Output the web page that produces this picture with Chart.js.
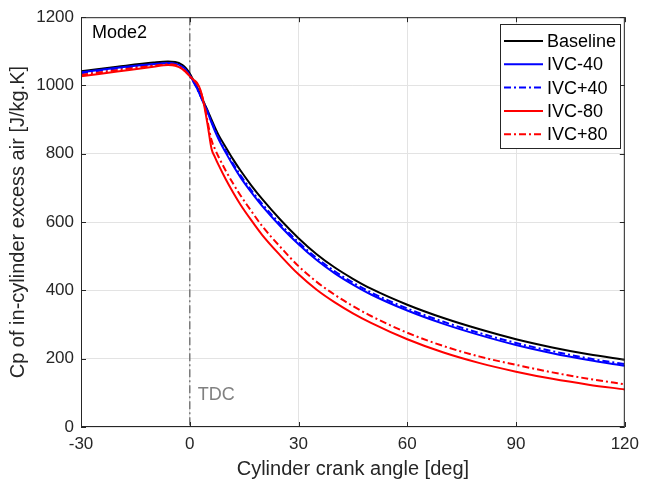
<!DOCTYPE html>
<html>
<head>
<meta charset="utf-8">
<script src="https://cdn.jsdelivr.net/npm/chart.js@4.4.1/dist/chart.umd.min.js"></script>
<style>
  html, body { margin: 0; padding: 0; background: #fff; }
  #wrap { width: 646px; height: 487px; position: relative; }
</style>
</head>
<body>
<div id="wrap"><canvas id="cp-chart"></canvas></div>
<script>
// Cp of in-cylinder excess air vs crank angle, Mode2
const angles = [-30, -20, -10, -6, -4, -2, -1, 0, 1, 2, 3, 4, 5, 6, 7, 8, 10, 12, 14, 17, 20, 25, 30, 35, 40, 45, 50, 60, 70, 80, 90, 100, 110, 120];

const baseline = [1042, 1055, 1067, 1070, 1069, 1060, 1050, 1035, 1015, 995, 972, 948, 925, 900, 876, 854, 818, 783, 751, 707, 667, 607, 553, 506, 467, 434, 405, 358, 319, 286, 257, 233, 213, 197];
const ivcMinus40 = [1039, 1052, 1063, 1066, 1064, 1055, 1045, 1030, 1012, 992, 968, 944, 920, 891, 865, 842, 802, 765, 731, 687, 647, 588, 535, 489, 450, 417, 388, 341, 302, 269, 240, 216, 196, 179];
const ivcPlus40 = [1036, 1050, 1061, 1064, 1062, 1053, 1043, 1028, 1011, 991, 968, 945, 921, 894, 869, 846, 807, 770, 737, 693, 653, 594, 541, 495, 456, 423, 394, 347, 308, 275, 246, 222, 201, 184];
const ivcMinus80 = [1027, 1041, 1055, 1060, 1058, 1048, 1038, 1027, 1017, 1008, 985, 940, 880, 815, 789, 766, 724, 686, 651, 605, 562, 502, 447, 402, 365, 333, 305, 257, 218, 187, 162, 141, 124, 110];
const ivcPlus80 = [1031, 1045, 1058, 1062, 1060, 1050, 1040, 1028, 1016, 1005, 982, 945, 890, 840, 813, 790, 749, 712, 678, 632, 588, 527, 471, 425, 387, 354, 325, 276, 237, 206, 182, 160, 141, 125];

const xTicks = [-30, 0, 30, 60, 90, 120];
const yTicks = [0, 200, 400, 600, 800, 1000, 1200];
const tdcAngle = 0;

const FONT = '"Liberation Sans", Arial, Helvetica, sans-serif';
const DASH_DOT = [7, 3, 2, 3];

function toPoints(values) {
    return values.map((v, i) => ({ x: angles[i], y: v }));
}

function series(label, values, color, dashed, order) {
    return {
        label: label,
        data: toPoints(values),
        borderColor: color,
        borderWidth: 2,
        borderDash: dashed ? DASH_DOT : [],
        pointRadius: 0,
        cubicInterpolationMode: 'monotone',
        fill: false,
        order: order
    };
}

// box, inward ticks, TDC marker, labels and legend
const decorPlugin = {
    id: 'decor',
    beforeDatasetsDraw(chart) {
        const { ctx, chartArea: a, scales } = chart;
        const xp = scales.x.getPixelForValue(tdcAngle);
        ctx.save();
        ctx.strokeStyle = '#7a7a7a';
        ctx.lineWidth = 1.5;
        ctx.setLineDash([8, 3, 2, 3]);
        ctx.beginPath();
        ctx.moveTo(xp, a.top);
        ctx.lineTo(xp, a.bottom);
        ctx.stroke();
        ctx.restore();
    },
    afterDraw(chart) {
        const { ctx, chartArea: a, scales } = chart;
        ctx.save();
        ctx.strokeStyle = '#262626';
        ctx.lineWidth = 1;
        ctx.setLineDash([]);
        ctx.strokeRect(a.left + 0.5, a.top + 0.5, a.right - a.left - 1, a.bottom - a.top - 1);

        const tl = 5;
        ctx.beginPath();
        xTicks.forEach(v => {
            const px = Math.round(scales.x.getPixelForValue(v)) + 0.5;
            ctx.moveTo(px, a.bottom); ctx.lineTo(px, a.bottom - tl);
            ctx.moveTo(px, a.top); ctx.lineTo(px, a.top + tl);
        });
        yTicks.forEach(v => {
            const py = Math.round(scales.y.getPixelForValue(v)) + 0.5;
            ctx.moveTo(a.left, py); ctx.lineTo(a.left + tl, py);
            ctx.moveTo(a.right, py); ctx.lineTo(a.right - tl, py);
        });
        ctx.stroke();

        ctx.fillStyle = '#000';
        ctx.font = '18px ' + FONT;
        ctx.textBaseline = 'middle';
        ctx.textAlign = 'left';
        ctx.fillText('Mode2', a.left + 11, a.top + 16);

        ctx.fillStyle = '#808080';
        ctx.fillText('TDC', scales.x.getPixelForValue(tdcAngle) + 8, scales.y.getPixelForValue(95));

        // legend
        const items = chart.data.datasets;
        const lx = 500, ly = 24, lw = 120, lh = 124;
        ctx.fillStyle = '#fff';
        ctx.fillRect(lx, ly, lw, lh);
        ctx.strokeStyle = '#262626';
        ctx.lineWidth = 1;
        ctx.strokeRect(lx + 0.5, ly + 0.5, lw, lh);
        ctx.font = '18px ' + FONT;
        items.forEach((ds, i) => {
            const cy = ly + 17 + i * 23.3;
            ctx.strokeStyle = ds.borderColor;
            ctx.lineWidth = 2;
            ctx.setLineDash(ds.borderDash);
            ctx.beginPath();
            ctx.moveTo(lx + 4, cy);
            ctx.lineTo(lx + 43, cy);
            ctx.stroke();
            ctx.setLineDash([]);
            ctx.fillStyle = '#000';
            ctx.fillText(ds.label, lx + 47, cy + 1);
        });
        ctx.restore();
    }
};

new Chart(document.getElementById('cp-chart'), {
    type: 'line',
    data: {
        datasets: [
            series('Baseline', baseline, '#000000', false, 5),
            series('IVC-40', ivcMinus40, '#0000ff', false, 4),
            series('IVC+40', ivcPlus40, '#0000ff', true, 3),
            series('IVC-80', ivcMinus80, '#ff0000', false, 2),
            series('IVC+80', ivcPlus80, '#ff0000', true, 1)
        ]
    },
    options: {
        responsive: true,
        maintainAspectRatio: false,
        animation: false,
        layout: { padding: { top: 15, right: 15, left: 0, bottom: 0 } },
        plugins: {
            legend: { display: false },
            tooltip: { enabled: false }
        },
        scales: {
            x: {
                type: 'linear',
                min: -30,
                max: 120,
                afterBuildTicks: s => { s.ticks = xTicks.map(v => ({ value: v })); },
                afterFit: s => { s.height = 60; },
                grid: { color: '#e3e3e3', lineWidth: 1, drawTicks: false },
                border: { display: false },
                ticks: { color: '#262626', font: { family: FONT, size: 17 }, padding: 7, maxRotation: 0, callback: v => String(v) },
                title: {
                    display: true,
                    text: 'Cylinder crank angle [deg]',
                    color: '#262626',
                    font: { family: FONT, size: 20 },
                    padding: { top: 0, bottom: 6 }
                }
            },
            y: {
                min: 0,
                max: 1200,
                afterBuildTicks: s => { s.ticks = yTicks.map(v => ({ value: v })); },
                afterFit: s => { s.width = 81; },
                grid: { color: '#e3e3e3', lineWidth: 1, drawTicks: false },
                border: { display: false },
                ticks: { color: '#262626', font: { family: FONT, size: 17 }, padding: 7, callback: v => String(v) },
                title: {
                    display: true,
                    text: 'Cp of in-cylinder excess air [J/kg.K]',
                    color: '#262626',
                    font: { family: FONT, size: 20 },
                    padding: { top: 6, bottom: 0 }
                }
            }
        }
    },
    plugins: [decorPlugin]
});
</script>
</body>
</html>
